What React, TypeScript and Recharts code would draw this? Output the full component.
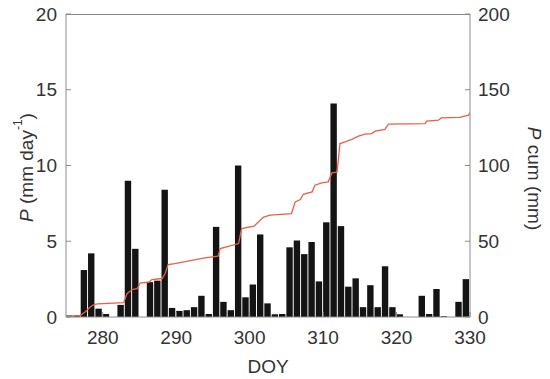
import React from 'react';
import { ComposedChart, Bar, Line, XAxis, YAxis, Label } from 'recharts';

// daily precipitation, DOY 275..329
const doy = [
  275, 276, 277, 278, 279, 280, 281, 282, 283, 284,
  285, 286, 287, 288, 289, 290, 291, 292, 293, 294,
  295, 296, 297, 298, 299, 300, 301, 302, 303, 304,
  305, 306, 307, 308, 309, 310, 311, 312, 313, 314,
  315, 316, 317, 318, 319, 320, 321, 322, 323, 324,
  325, 326, 327, 328, 329,
];
const precip = [
  0.1, 0.1, 3.1, 4.2, 0.55, 0.2, 0, 0.8, 9.0, 4.5,
  0, 2.3, 2.4, 8.4, 0.6, 0.4, 0.45, 0.65, 1.4, 0.2,
  5.95, 1.0, 0.45, 10.0, 1.3, 2.15, 5.45, 0.9, 0.18, 0.2,
  4.6, 5.05, 4.15, 4.95, 2.35, 6.25, 14.1, 6.0, 2.0, 2.55,
  0.65, 2.1, 0.65, 3.35, 0.65, 0.18, 0, 0, 1.4, 0.2,
  1.85, 0.05, 0, 1.0, 2.5,
];

// cumulative precipitation (mm)
const cumDoy = [
  275, 276.9, 277.6, 278.3, 278.8, 279.3, 282.85, 283.3, 284.0, 284.7,
  285.1, 286.3, 286.7, 288.1, 288.5, 288.9, 289.8, 293.9, 295.7, 296.0,
  298.5, 298.9, 300.6, 301.9, 302.8, 305.7, 306.2, 306.9, 307.3, 308.5,
  308.9, 309.8, 310.7, 311.2, 311.9, 312.3, 313.0, 313.9, 314.8, 315.7,
  316.6, 317.1, 318.4, 318.9, 323.9, 324.1, 325.7, 326.1, 328.6, 329.8,
  330,
];
const cumP = [
  0.3, 0.9, 3.3, 6.6, 8.2, 8.7, 9.5, 15.4, 18.1, 18.7,
  22.4, 23.1, 24.7, 25.4, 28.7, 34.6, 35.3, 39.0, 40.1, 45.2,
  48.5, 58.4, 60.0, 66.0, 67.2, 68.3, 76.0, 77.5, 81.0, 82.6,
  87.0, 88.5, 89.2, 95.1, 95.6, 114.5, 115.6, 117.2, 119.4, 120.7,
  121.1, 122.7, 123.8, 127.3, 127.7, 129.3, 129.9, 131.4, 131.7, 133.2,
  135.0,
];

const xTicks = [280, 290, 300, 310, 320, 330];
const leftTicks = [0, 5, 10, 15, 20];
const rightTicks = [0, 50, 100, 150, 200];

const barRows = doy.map((d, i) => ({ day: d, p: precip[i] }));
const cumRows = cumDoy.map((d, i) => ({ x: d, cum: cumP[i] }));

const font = '"Liberation Sans", Arial, sans-serif';
const axisColor = '#8c8c8c';
const textColor = '#333333';
const tickStyle = { fontSize: 19, fill: textColor, fontFamily: font };

function LeftTitle(props: any) {
  const vb = props.viewBox;
  const cx = 26;
  const cy = vb.y + vb.height / 2 + 2;
  return (
    <text
      x={cx}
      y={cy}
      transform={`rotate(-90 ${cx} ${cy})`}
      textAnchor="middle"
      dominantBaseline="central"
      fontFamily={font}
      fontSize={19}
      fill={textColor}
    >
      <tspan fontStyle="italic">P</tspan>
      <tspan> (mm day</tspan>
      <tspan fontSize={12} dy={-8}>-1</tspan>
      <tspan dy={8}>)</tspan>
    </text>
  );
}

function RightTitle(props: any) {
  const vb = props.viewBox;
  const cx = 535;
  const cy = vb.y + vb.height / 2 + 13;
  return (
    <text
      x={cx}
      y={cy}
      transform={`rotate(90 ${cx} ${cy})`}
      textAnchor="middle"
      dominantBaseline="central"
      fontFamily={font}
      fontSize={19}
      fill={textColor}
    >
      <tspan fontStyle="italic">P</tspan>
      <tspan> cum (mm)</tspan>
    </text>
  );
}

export default function App() {
  return (
    <div style={{ position: 'absolute', left: 0, top: 0, width: 550, height: 379, background: '#ffffff' }}>
      <ComposedChart
        width={550}
        height={379}
        data={barRows}
        margin={{ top: 14, right: 0, bottom: 0, left: 0 }}
      >
        {/* hidden category axis, one band per day, for the bars */}
        <XAxis xAxisId="days" dataKey="day" type="category" hide padding={{ left: 0, right: 0 }} />
        <XAxis
          dataKey="x"
          type="number"
          domain={[275, 330]}
          ticks={xTicks}
          allowDataOverflow
          height={62}
          stroke={axisColor}
          tick={tickStyle}
          tickSize={-5}
          tickMargin={19}
        >
          <Label
            value="DOY"
            position="insideBottom"
            offset={6}
            style={{ fontSize: 19, fill: textColor, fontFamily: font }}
          />
        </XAxis>
        <YAxis
          yAxisId="left"
          domain={[0, 20]}
          ticks={leftTicks}
          width={66}
          stroke={axisColor}
          tick={tickStyle}
          tickSize={-5}
          tickMargin={14}
        >
          <Label content={<LeftTitle />} />
        </YAxis>
        <YAxis
          yAxisId="right"
          orientation="right"
          domain={[0, 200]}
          ticks={rightTicks}
          width={80}
          stroke={axisColor}
          tick={tickStyle}
          tickSize={-5}
          tickMargin={13}
        >
          <Label content={<RightTitle />} />
        </YAxis>
        <Bar
          xAxisId="days"
          yAxisId="left"
          dataKey="p"
          fill="#141414"
          barSize={6.4}
          isAnimationActive={false}
        />
        <Line
          yAxisId="right"
          data={cumRows}
          dataKey="cum"
          type="linear"
          stroke="#e8604a"
          strokeWidth={1.3}
          dot={false}
          isAnimationActive={false}
        />
      </ComposedChart>
      {/* top edge of the axes box */}
      <div style={{ position: 'absolute', left: 66, top: 14, width: 404, height: 1, background: axisColor }} />
    </div>
  );
}
